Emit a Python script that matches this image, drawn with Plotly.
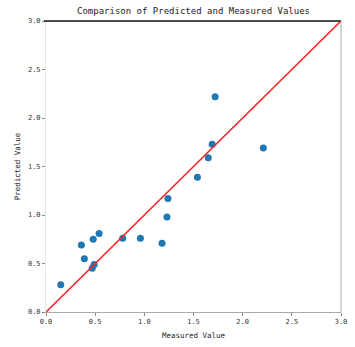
import plotly.graph_objects as go

measured = [1.72, 1.69, 2.21, 1.65, 1.54, 1.24, 1.23, 0.54, 0.36, 0.48, 0.78, 0.96, 1.18, 0.39, 0.49, 0.47, 0.15]
predicted = [2.22, 1.73, 1.69, 1.59, 1.39, 1.17, 0.98, 0.81, 0.69, 0.75, 0.76, 0.76, 0.71, 0.55, 0.49, 0.45, 0.28]
ref_line = [0.0, 3.0]
tick_vals = [0.0, 0.5, 1.0, 1.5, 2.0, 2.5, 3.0]
tick_text = ["0.0", "0.5", "1.0", "1.5", "2.0", "2.5", "3.0"]

mono = "DejaVu Sans Mono"

fig = go.Figure()
fig.add_trace(go.Scatter(x=measured, y=predicted, mode="markers",
                         marker=dict(color="#1f77b4", size=7, line=dict(width=0)),
                         showlegend=False))
fig.add_trace(go.Scatter(x=ref_line, y=ref_line, mode="lines",
                         line=dict(color="#ff2020", width=1.6), showlegend=False))

axis_common = dict(range=[0, 3], tickvals=tick_vals, ticktext=tick_text,
                   ticks="outside", ticklen=3, tickcolor="#888", tickwidth=1,
                   showgrid=False, zeroline=False,
                   tickfont=dict(family=mono, size=7, color="#333"))

fig.update_xaxes(**axis_common, showline=True, linecolor="#aaa", linewidth=1,
                 title=dict(text="Measured Value", font=dict(family=mono, size=7.5, color="#222"), standoff=7))
fig.update_yaxes(**axis_common, showline=True, linecolor="#e6e6e6", linewidth=1,
                 title=dict(text="Predicted Value", font=dict(family=mono, size=7.5, color="#222"), standoff=6))

fig.add_shape(type="line", xref="paper", yref="paper", x0=-0.007, x1=1, y0=1, y1=1,
              line=dict(color="#111", width=1.5))
fig.add_shape(type="line", xref="paper", yref="paper", x0=1, x1=1, y0=0, y1=1,
              line=dict(color="#aaa", width=1))

fig.update_layout(
    width=355, height=347,
    margin=dict(l=46, r=8, t=21, b=30),
    paper_bgcolor="white", plot_bgcolor="white",
    title=dict(text="Comparison of Predicted and Measured Values",
               font=dict(family=mono, size=9, color="#222"),
               x=0.5, xanchor="center", xref="paper", y=1 - 11/347, yanchor="middle"),
)

fig.write_html("out.html")
